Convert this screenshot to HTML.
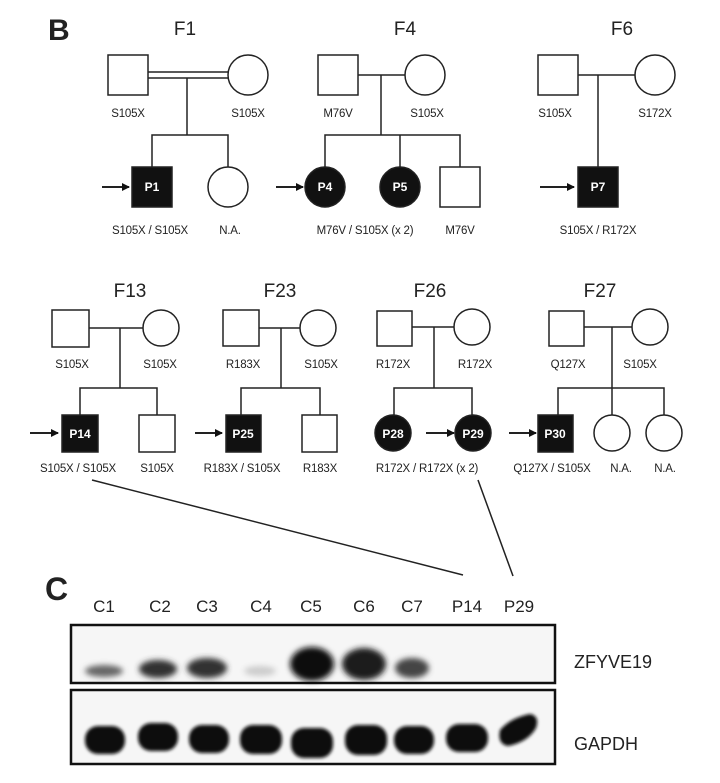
<!DOCTYPE html>
<html><head><meta charset="utf-8"><style>
html,body{margin:0;padding:0;background:#fff}
svg{display:block}
text{font-family:"Liberation Sans",Arial,sans-serif;fill:#222}
.s{font-size:11.5px;text-anchor:middle;letter-spacing:-0.2px}
.f{font-size:19px;text-anchor:middle}
.p{font-size:12px;font-weight:bold;fill:#fff;text-anchor:middle}
</style></head><body>
<svg width="720" height="783" viewBox="0 0 720 783" xmlns="http://www.w3.org/2000/svg">
<defs>
<marker id="a" markerWidth="8" markerHeight="8" refX="7" refY="4" orient="auto" markerUnits="userSpaceOnUse"><path d="M0,0 L8,4 L0,8 Z" fill="#111"/></marker>
<filter id="b1" x="-50%" y="-50%" width="200%" height="200%"><feGaussianBlur stdDeviation="3"/></filter>
<filter id="b2" x="-50%" y="-50%" width="200%" height="200%"><feGaussianBlur stdDeviation="1.5"/></filter>
</defs>
<g stroke="#222" stroke-width="1.5" fill="#fff">
<!-- F1 -->
<rect x="108" y="55" width="40" height="40"/><circle cx="248" cy="75" r="20"/>
<line x1="148" y1="72" x2="228" y2="72"/><line x1="148" y1="78" x2="228" y2="78"/>
<polyline fill="none" points="187,78 187,135"/><polyline fill="none" points="152,167 152,135 228,135 228,167"/>
<rect x="132" y="167" width="40" height="40" fill="#111"/><circle cx="228" cy="187" r="20"/>
<line x1="102" y1="187" x2="129" y2="187" marker-end="url(#a)" stroke-width="2"/>
<!-- F4 -->
<rect x="318" y="55" width="40" height="40"/><circle cx="425" cy="75" r="20"/>
<line x1="358" y1="75" x2="405" y2="75"/><line x1="381" y1="75" x2="381" y2="135"/>
<polyline fill="none" points="325,167 325,135 460,135 460,167"/><line x1="400" y1="135" x2="400" y2="167"/>
<circle cx="325" cy="187" r="20" fill="#111"/><circle cx="400" cy="187" r="20" fill="#111"/><rect x="440" y="167" width="40" height="40"/>
<line x1="276" y1="187" x2="303" y2="187" marker-end="url(#a)" stroke-width="2"/>
<!-- F6 -->
<rect x="538" y="55" width="40" height="40"/><circle cx="655" cy="75" r="20"/>
<line x1="578" y1="75" x2="635" y2="75"/><line x1="598" y1="75" x2="598" y2="167"/>
<rect x="578" y="167" width="40" height="40" fill="#111"/>
<line x1="540" y1="187" x2="574" y2="187" marker-end="url(#a)" stroke-width="2"/>
<!-- F13 -->
<rect x="52" y="310" width="37" height="37"/><circle cx="161" cy="328" r="18"/>
<line x1="89" y1="328" x2="143" y2="328"/><line x1="120" y1="328" x2="120" y2="388"/>
<polyline fill="none" points="80,415 80,388 157,388 157,415"/>
<rect x="62" y="415" width="36" height="37" fill="#111"/><rect x="139" y="415" width="36" height="37"/>
<line x1="30" y1="433" x2="58" y2="433" marker-end="url(#a)" stroke-width="2"/>
<!-- F23 -->
<rect x="223" y="310" width="36" height="36"/><circle cx="318" cy="328" r="18"/>
<line x1="259" y1="328" x2="300" y2="328"/><line x1="281" y1="328" x2="281" y2="388"/>
<polyline fill="none" points="241,415 241,388 320,388 320,415"/>
<rect x="226" y="415" width="35" height="37" fill="#111"/><rect x="302" y="415" width="35" height="37"/>
<line x1="195" y1="433" x2="222" y2="433" marker-end="url(#a)" stroke-width="2"/>
<!-- F26 -->
<rect x="377" y="311" width="35" height="35"/><circle cx="472" cy="327" r="18"/>
<line x1="412" y1="327" x2="454" y2="327"/><line x1="434" y1="327" x2="434" y2="388"/>
<polyline fill="none" points="394,415 394,388 472,388 472,415"/>
<circle cx="393" cy="433" r="18" fill="#111"/><circle cx="473" cy="433" r="18" fill="#111"/>
<line x1="426" y1="433" x2="454" y2="433" marker-end="url(#a)" stroke-width="2"/>
<!-- F27 -->
<rect x="549" y="311" width="35" height="35"/><circle cx="650" cy="327" r="18"/>
<line x1="584" y1="327" x2="632" y2="327"/><line x1="612" y1="327" x2="612" y2="415"/>
<polyline fill="none" points="558,415 558,388 664,388 664,415"/>
<rect x="538" y="415" width="35" height="37" fill="#111"/><circle cx="612" cy="433" r="18"/><circle cx="664" cy="433" r="18"/>
<line x1="509" y1="433" x2="536" y2="433" marker-end="url(#a)" stroke-width="2"/>
<!-- connectors -->
<line x1="92" y1="480" x2="463" y2="575"/><line x1="478" y1="480" x2="513" y2="576"/>
</g>
<text x="48" y="40" style="font-size:30px;font-weight:bold;fill:#222">B</text>
<text class="f" x="185" y="35">F1</text><text class="f" x="405" y="35">F4</text><text class="f" x="622" y="35">F6</text>
<text class="f" x="130" y="297">F13</text><text class="f" x="280" y="297">F23</text><text class="f" x="430" y="297">F26</text><text class="f" x="600" y="297">F27</text>
<text class="s" x="128" y="117">S105X</text><text class="s" x="248" y="117">S105X</text>
<text class="s" x="150" y="234">S105X / S105X</text><text class="s" x="230" y="234">N.A.</text>
<text class="s" x="338" y="117">M76V</text><text class="s" x="427" y="117">S105X</text>
<text class="s" x="365" y="234">M76V / S105X (x 2)</text><text class="s" x="460" y="234">M76V</text>
<text class="s" x="555" y="117">S105X</text><text class="s" x="655" y="117">S172X</text>
<text class="s" x="598" y="234">S105X / R172X</text>
<text class="s" x="72" y="368">S105X</text><text class="s" x="160" y="368">S105X</text>
<text class="s" x="78" y="472">S105X / S105X</text><text class="s" x="157" y="472">S105X</text>
<text class="s" x="243" y="368">R183X</text><text class="s" x="321" y="368">S105X</text>
<text class="s" x="242" y="472">R183X / S105X</text><text class="s" x="320" y="472">R183X</text>
<text class="s" x="393" y="368">R172X</text><text class="s" x="475" y="368">R172X</text>
<text class="s" x="427" y="472">R172X / R172X (x 2)</text>
<text class="s" x="568" y="368">Q127X</text><text class="s" x="640" y="368">S105X</text>
<text class="s" x="552" y="472">Q127X / S105X</text><text class="s" x="621" y="472">N.A.</text><text class="s" x="665" y="472">N.A.</text>
<text class="p" x="152" y="191">P1</text><text class="p" x="325" y="191">P4</text><text class="p" x="400" y="191">P5</text><text class="p" x="598" y="191">P7</text>
<text class="p" x="80" y="438">P14</text><text class="p" x="243" y="438">P25</text><text class="p" x="393" y="438">P28</text><text class="p" x="473" y="438">P29</text><text class="p" x="555" y="438">P30</text>
<text x="45" y="600" style="font-size:32px;font-weight:bold;fill:#222">C</text>
<text class="f" style="font-size:17px" x="104" y="612">C1</text><text class="f" style="font-size:17px" x="160" y="612">C2</text><text class="f" style="font-size:17px" x="207" y="612">C3</text><text class="f" style="font-size:17px" x="261" y="612">C4</text><text class="f" style="font-size:17px" x="311" y="612">C5</text><text class="f" style="font-size:17px" x="364" y="612">C6</text><text class="f" style="font-size:17px" x="412" y="612">C7</text><text class="f" style="font-size:17px" x="467" y="612">P14</text><text class="f" style="font-size:17px" x="519" y="612">P29</text>
<rect x="71" y="625" width="484" height="58" fill="#f6f6f6" stroke="#111" stroke-width="2.5"/>
<rect x="71" y="690" width="484" height="74" fill="#f6f6f6" stroke="#111" stroke-width="2.5"/>
<g filter="url(#b1)">
<ellipse cx="104" cy="671" rx="19" ry="6" fill="#666"/>
<ellipse cx="158" cy="669" rx="19" ry="9" fill="#333"/>
<ellipse cx="207" cy="668" rx="20" ry="10" fill="#333"/>
<ellipse cx="260" cy="671" rx="16" ry="5" fill="#ccc"/>
<ellipse cx="312" cy="664" rx="22" ry="17" fill="#111"/>
<ellipse cx="364" cy="664" rx="22" ry="16" fill="#1a1a1a"/>
<ellipse cx="412" cy="668" rx="17" ry="10" fill="#444"/>
</g>
<g filter="url(#b2)" fill="#111">
<rect x="85" y="726" width="40" height="28" rx="13"/>
<rect x="138" y="723" width="40" height="28" rx="13"/>
<rect x="189" y="725" width="40" height="28" rx="13"/>
<rect x="240" y="725" width="42" height="29" rx="13"/>
<rect x="291" y="728" width="42" height="30" rx="13"/>
<rect x="345" y="725" width="42" height="30" rx="13"/>
<rect x="394" y="726" width="40" height="28" rx="13"/>
<rect x="446" y="724" width="42" height="28" rx="13"/>
<path d="M500,730 Q510,718 530,714 Q540,716 536,728 Q528,742 508,746 Q497,744 500,730 Z"/>
</g>
<text x="574" y="668" style="font-size:18px">ZFYVE19</text>
<text x="574" y="750" style="font-size:18px">GAPDH</text>
</svg>
</body></html>
